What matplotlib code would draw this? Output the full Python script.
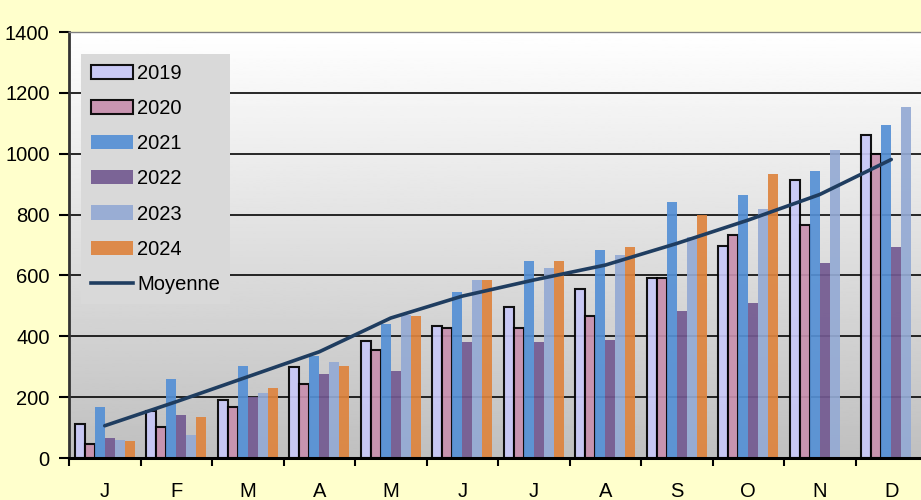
#!/usr/bin/env python3
# -*- coding: utf-8 -*-
import matplotlib
matplotlib.use("Agg")
import matplotlib.pyplot as plt
from matplotlib.patches import Patch
from matplotlib.lines import Line2D
import numpy as np

months = ["J", "F", "M", "A", "M", "J", "J", "A", "S", "O", "N", "D"]
years = ["2019", "2020", "2021", "2022", "2023", "2024"]

v2019 = [112, 153, 191, 300, 386, 434, 497, 555, 592, 698, 914, 1062]
v2020 = [46, 101, 169, 243, 354, 427, 427, 466, 592, 734, 767, 999]
v2021 = [167, 261, 302, 335, 440, 546, 647, 683, 842, 863, 943, 1096]
v2022 = [65, 140, 200, 276, 287, 382, 382, 388, 483, 509, 641, 694]
v2023 = [59, 75, 213, 314, 470, 585, 624, 667, 725, 817, 1012, 1154]
v2024 = [55, 134, 229, 303, 467, 585, 647, 693, 800, 932, None, None]
moyenne = [106, 185, 267, 349, 460, 532, 585, 634, 705, 782, 866, 981]

series = [v2019, v2020, v2021, v2022, v2023, v2024]
colors = ["#C8C8F8", "#C890AE", "#5590D5", "#735A91", "#94AAD4", "#DE843E"]
edged = [True, True, False, False, False, False]

plt.rcParams['font.family'] = ['Liberation Sans', 'DejaVu Sans']
FS = 14.5

fig = plt.figure(figsize=(9.21, 5.0), dpi=100, facecolor="#FFFFCC")
ax = fig.add_axes([69 / 921, 42 / 500, 858 / 921, 426 / 500])

# gradient background of the plot area
grad = np.linspace(1.0, 0.75, 256).reshape(-1, 1)
ax.imshow(grad[::-1], cmap="gray", vmin=0, vmax=1, aspect="auto",
          extent=[-0.5, 11.5, 0, 1400], origin="lower", zorder=0)

x = np.arange(len(months))
w = 0.14
for i, (vals, col, e) in enumerate(zip(series, colors, edged)):
    xs = [xi + (i - 2.5) * w for xi, v in zip(x, vals) if v is not None]
    ys = [v for v in vals if v is not None]
    ax.bar(xs, ys, width=w, color=col, alpha=0.92,
           edgecolor="black" if e else "none", linewidth=1.5 if e else 0,
           zorder=2)

for yv in range(200, 1400, 200):
    ax.axhline(yv, color="black", linewidth=1.3, zorder=1.5, alpha=0.9)

ax.plot(x, moyenne, color="#1F3D60", linewidth=2.6, zorder=3,
        solid_capstyle="round")

ax.set_xlim(-0.5, 11.5)
ax.set_ylim(0, 1400)
ax.set_yticks(range(0, 1401, 200))
ax.set_xticks(np.arange(-0.5, 11.5, 1))
ax.set_xticklabels([])
ax.set_xticks(x, minor=True)
ax.set_xticklabels(months, minor=True)
ax.tick_params(axis="x", which="minor", length=0, pad=17, labelsize=FS)
ax.tick_params(axis="x", which="major", length=6, width=1.5, direction="out")
ax.tick_params(axis="y", length=7, width=1.5, direction="out", labelsize=FS,
               pad=7)

ax.spines["bottom"].set_linewidth(2.2)
ax.spines["left"].set_linewidth(2.0)
ax.spines["left"].set_color("#333333")
ax.spines["top"].set_color("#808080")
ax.spines["top"].set_linewidth(1.0)
ax.spines["right"].set_visible(False)

handles = []
for y, col, e in zip(years, colors, edged):
    handles.append(Patch(facecolor=col, alpha=0.92,
                         edgecolor="black" if e else "none",
                         linewidth=1.5 if e else 0, label=y))
handles.append(Line2D([], [], color="#1F3D60", linewidth=2.6, label="Moyenne"))

leg = fig.legend(handles=handles, loc="upper left",
                 bbox_to_anchor=(81 / 921, 1 - 54 / 500), borderaxespad=0,
                 fontsize=FS, frameon=True, fancybox=False,
                 labelspacing=0.8, handlelength=2.1, handletextpad=0.2,
                 borderpad=0.5)
leg.get_frame().set_facecolor("#D9D9D9")
leg.get_frame().set_edgecolor("none")
leg.get_frame().set_alpha(1.0)

plt.savefig("out.png", dpi=100, facecolor=fig.get_facecolor())
